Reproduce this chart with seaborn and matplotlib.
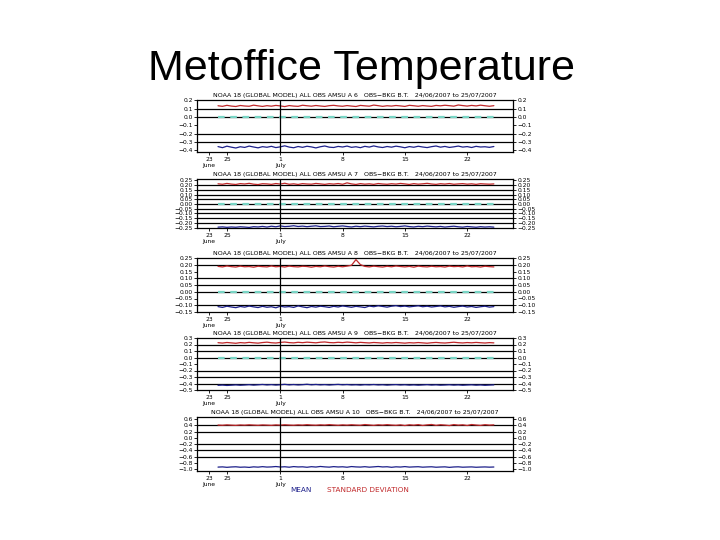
import matplotlib
matplotlib.use("Agg")
import matplotlib.pyplot as plt
import pandas as pd
import seaborn as sns

sns.set_theme(style="white")
plt.rcParams['font.family'] = ['DejaVu Sans']

# ---------------- data ----------------
slide_title = "Metoffice Temperature"
channels = ["6", "7", "8", "9", "10"]
title_tpl = "NOAA 18 (GLOBAL MODEL) ALL OBS AMSU A {}   OBS\u2212BKG B.T.   24/06/2007 to 25/07/2007"
start_date = "2007-06-24"
legend_mean = "MEAN"
legend_sd = "STANDARD DEVIATION"

sd_ch6 = [0.135,0.128,0.140,0.131,0.126,0.138,0.132,0.129,0.142,0.134,0.127,0.136,0.130,0.139,0.133,0.125,
          0.137,0.131,0.128,0.141,0.135,0.130,0.138,0.132,0.127,0.136,0.140,0.133,0.129,0.137,0.131,0.126,
          0.139,0.134,0.130,0.143,0.136,0.128,0.135,0.131,0.138,0.133,0.127,0.140,0.135,0.129,0.137,0.132,
          0.128,0.139,0.134,0.141,0.136,0.130,0.144,0.137,0.131,0.139,0.133,0.142,0.135,0.129,0.136]
mean_ch6 = [-0.355,-0.368,-0.350,-0.362,-0.372,-0.357,-0.365,-0.349,-0.360,-0.370,-0.356,-0.363,-0.352,-0.367,
            -0.358,-0.346,-0.361,-0.369,-0.354,-0.364,-0.351,-0.359,-0.371,-0.357,-0.348,-0.362,-0.366,-0.353,
            -0.360,-0.349,-0.364,-0.357,-0.368,-0.352,-0.361,-0.347,-0.359,-0.366,-0.354,-0.362,-0.350,-0.358,
            -0.369,-0.355,-0.363,-0.351,-0.360,-0.367,-0.356,-0.348,-0.362,-0.353,-0.365,-0.358,-0.349,-0.361,
            -0.355,-0.366,-0.352,-0.360,-0.357,-0.364,-0.354]

sd_ch7 = [0.214,0.209,0.218,0.211,0.207,0.216,0.212,0.219,0.210,0.206,0.215,0.213,0.208,0.217,0.211,0.220,
          0.209,0.214,0.207,0.216,0.212,0.210,0.218,0.213,0.208,0.215,0.211,0.217,0.209,0.224,0.213,0.207,
          0.216,0.210,0.214,0.208,0.217,0.212,0.209,0.215,0.211,0.218,0.213,0.207,0.216,0.210,0.214,0.219,
          0.212,0.208,0.215,0.211,0.217,0.209,0.213,0.216,0.210,0.214,0.208,0.215,0.212,0.210,0.213]
mean_ch7 = [-0.246,-0.243,-0.248,-0.244,-0.247,-0.242,-0.245,-0.249,-0.241,-0.244,-0.238,-0.245,-0.236,-0.242,
            -0.233,-0.240,-0.237,-0.231,-0.239,-0.235,-0.241,-0.236,-0.232,-0.240,-0.238,-0.234,-0.242,-0.237,
            -0.233,-0.239,-0.244,-0.236,-0.241,-0.235,-0.239,-0.243,-0.237,-0.234,-0.240,-0.236,-0.242,-0.238,
            -0.233,-0.240,-0.244,-0.237,-0.241,-0.235,-0.239,-0.243,-0.238,-0.245,-0.240,-0.236,-0.242,-0.246,
            -0.239,-0.243,-0.247,-0.241,-0.245,-0.242,-0.246]

sd_ch8 = [0.188,0.184,0.191,0.186,0.183,0.190,0.185,0.187,0.182,0.189,0.186,0.184,0.191,0.185,0.188,0.183,
          0.190,0.186,0.184,0.189,0.187,0.182,0.188,0.185,0.191,0.186,0.183,0.189,0.185,0.190,0.196,0.238,
          0.201,0.188,0.184,0.190,0.186,0.183,0.189,0.185,0.191,0.187,0.184,0.188,0.182,0.190,0.186,0.184,
          0.189,0.185,0.187,0.183,0.190,0.186,0.188,0.184,0.191,0.185,0.187,0.183,0.189,0.186,0.184]
mean_ch8 = [-0.110,-0.116,-0.107,-0.113,-0.118,-0.109,-0.114,-0.106,-0.112,-0.117,-0.108,-0.115,-0.111,-0.119,
            -0.107,-0.113,-0.110,-0.116,-0.105,-0.112,-0.118,-0.109,-0.114,-0.107,-0.111,-0.116,-0.108,-0.113,
            -0.105,-0.110,-0.115,-0.108,-0.112,-0.117,-0.106,-0.111,-0.104,-0.109,-0.114,-0.107,-0.103,-0.110,
            -0.106,-0.112,-0.108,-0.104,-0.111,-0.107,-0.113,-0.109,-0.105,-0.112,-0.108,-0.115,-0.110,-0.106,
            -0.113,-0.109,-0.116,-0.111,-0.107,-0.114,-0.110]

sd_ch9 = [0.228,0.222,0.231,0.225,0.219,0.229,0.224,0.233,0.226,0.221,0.230,0.236,0.227,0.223,0.232,0.238,
          0.229,0.225,0.234,0.228,0.236,0.231,0.226,0.235,0.239,0.230,0.227,0.234,0.229,0.237,0.232,0.226,
          0.233,0.228,0.224,0.231,0.227,0.222,0.229,0.225,0.231,0.226,0.221,0.228,0.224,0.230,0.225,0.220,
          0.227,0.232,0.226,0.223,0.229,0.235,0.228,0.224,0.230,0.226,0.232,0.227,0.223,0.229,0.225]
mean_ch9 = [-0.428,-0.424,-0.430,-0.426,-0.421,-0.427,-0.423,-0.418,-0.425,-0.420,-0.415,-0.422,-0.417,-0.424,
            -0.419,-0.413,-0.421,-0.416,-0.422,-0.418,-0.412,-0.420,-0.415,-0.421,-0.417,-0.423,-0.418,-0.414,
            -0.420,-0.416,-0.422,-0.419,-0.424,-0.418,-0.421,-0.416,-0.422,-0.419,-0.425,-0.420,-0.417,-0.423,
            -0.419,-0.425,-0.421,-0.426,-0.422,-0.418,-0.424,-0.420,-0.426,-0.423,-0.419,-0.425,-0.421,-0.427,
            -0.423,-0.420,-0.426,-0.422,-0.428,-0.424,-0.421]

sd_ch10 = [0.412,0.405,0.418,0.409,0.402,0.415,0.408,0.420,0.411,0.404,0.416,0.410,0.403,0.417,0.409,0.421,
           0.412,0.406,0.418,0.410,0.424,0.413,0.407,0.419,0.411,0.426,0.414,0.405,0.418,0.409,0.422,0.412,
           0.406,0.428,0.415,0.403,0.420,0.410,0.425,0.412,0.404,0.419,0.397,0.421,0.408,0.426,0.399,0.418,
           0.430,0.402,0.422,0.411,0.396,0.427,0.409,0.420,0.398,0.429,0.412,0.401,0.424,0.410,0.418]
mean_ch10 = [-0.935,-0.928,-0.942,-0.931,-0.925,-0.939,-0.933,-0.944,-0.927,-0.936,-0.921,-0.934,-0.929,-0.917,
             -0.932,-0.924,-0.938,-0.919,-0.930,-0.926,-0.940,-0.922,-0.933,-0.915,-0.928,-0.936,-0.920,-0.931,
             -0.925,-0.939,-0.918,-0.929,-0.934,-0.922,-0.937,-0.927,-0.916,-0.930,-0.924,-0.941,-0.926,-0.933,
             -0.919,-0.935,-0.928,-0.923,-0.937,-0.930,-0.925,-0.939,-0.932,-0.927,-0.943,-0.931,-0.926,-0.938,
             -0.933,-0.929,-0.940,-0.934,-0.930,-0.937,-0.932]

sd_series = [sd_ch6, sd_ch7, sd_ch8, sd_ch9, sd_ch10]
mean_series = [mean_ch6, mean_ch7, mean_ch8, mean_ch9, mean_ch10]

yticks_list = [
    [0.2, 0.1, 0.0, -0.1, -0.2, -0.3, -0.4],
    [0.25, 0.20, 0.15, 0.10, 0.05, 0.00, -0.05, -0.10, -0.15, -0.20, -0.25],
    [0.25, 0.20, 0.15, 0.10, 0.05, 0.00, -0.05, -0.10, -0.15],
    [0.3, 0.2, 0.1, 0.0, -0.1, -0.2, -0.3, -0.4, -0.5],
    [0.6, 0.4, 0.2, 0.0, -0.2, -0.4, -0.6, -0.8, -1.0],
]
ytick_fmt = ["{:.1f}", "{:.2f}", "{:.2f}", "{:.1f}", "{:.1f}"]
ylims = [(-0.42, 0.204), (-0.255, 0.265), (-0.15, 0.25), (-0.5, 0.3), (-1.06, 0.67)]
grid_levels = [
    [0.1, 0.0, -0.2, -0.3],
    [0.20, 0.15, 0.10, 0.05, 0.00, -0.05, -0.10, -0.15, -0.20],
    [0.20, 0.10, 0.05, 0.00, -0.10],
    [0.2, 0.1, 0.0, -0.2, -0.3, -0.4],
    [0.4, 0.2, -0.2, -0.4, -0.6],
]
show_zero = [True, True, True, True, False]

xtick_dates = ["2007-06-23", "2007-06-25", "2007-07-01", "2007-07-08", "2007-07-15", "2007-07-22"]
xtick_labels = ["23\nJune", "25", "1\nJuly", "8", "15", "22"]
month_line = "2007-07-01"
xlim = ("2007-06-21 15:20", "2007-07-27 03:36")

# ---------------- styling / layout ----------------
RED = "#c0282a"
BLUE = "#1c1f8a"
CYAN = "#78d4c4"
W, H = 720, 540
panel_px = [(100, 152), (179, 228), (258, 312), (338, 390), (417, 471)]
left_px, right_px = 197, 513

fig = plt.figure(figsize=(W / 100, H / 100), dpi=100)
fig.patch.set_facecolor("white")

fig.text(361 / W, 1 - 80 / H, slide_title, ha="center", va="baseline",
         fontsize=31, family=["Liberation Sans", "DejaVu Sans"], color="black")

for i in range(5):
    top, bot = panel_px[i]
    ax = fig.add_axes([left_px / W, 1 - bot / H, (right_px - left_px) / W, (bot - top) / H])
    ax.set_facecolor("white")

    d_sd = pd.date_range(start_date, periods=len(sd_series[i]), freq="12h")
    d_mn = pd.date_range(start_date, periods=len(mean_series[i]), freq="12h")

    for g in grid_levels[i]:
        ax.axhline(g, color="black", lw=0.9, zorder=1)
    if show_zero[i]:
        ax.hlines(0.0, d_sd[0], d_sd[-1], colors=CYAN, linestyles=(0, (3, 2.5)), lw=1.6, zorder=2)

    sns.lineplot(x=d_sd, y=sd_series[i], ax=ax, color=RED, lw=0.9, zorder=3)
    sns.lineplot(x=d_mn, y=mean_series[i], ax=ax, color=BLUE, lw=0.9, zorder=3)

    ax.axvline(pd.Timestamp(month_line), color="black", lw=0.9, zorder=4)

    ax.set_xlim(pd.Timestamp(xlim[0]), pd.Timestamp(xlim[1]))
    ax.set_ylim(*ylims[i])
    ax.set_yticks(yticks_list[i])
    ax.set_yticklabels([ytick_fmt[i].format(v).replace("-", "\u2212") for v in yticks_list[i]])
    ax.tick_params(axis="y", left=True, right=True, labelleft=True, labelright=True,
                   labelsize=4.3, length=2, width=0.6, pad=1, colors="black")
    ax.set_xticks([pd.Timestamp(d) for d in xtick_dates])
    ax.set_xticklabels(xtick_labels, fontsize=4.3, linespacing=1.4)
    ax.tick_params(axis="x", bottom=True, length=2, width=0.6, pad=1.5, colors="black")
    ax.set_xlabel("")
    ax.set_ylabel("")
    ax.set_title(title_tpl.format(channels[i]), fontsize=4.5, pad=2, color="black")
    for s in ax.spines.values():
        s.set_color("black")
        s.set_linewidth(0.9)

fig.text(290 / W, 1 - 490 / H, legend_mean, color=BLUE, fontsize=5.2, va="center", ha="left")
fig.text(327 / W, 1 - 490 / H, legend_sd, color=RED, fontsize=5.2, va="center", ha="left")

fig.savefig("out.png", dpi=100, facecolor="white")
